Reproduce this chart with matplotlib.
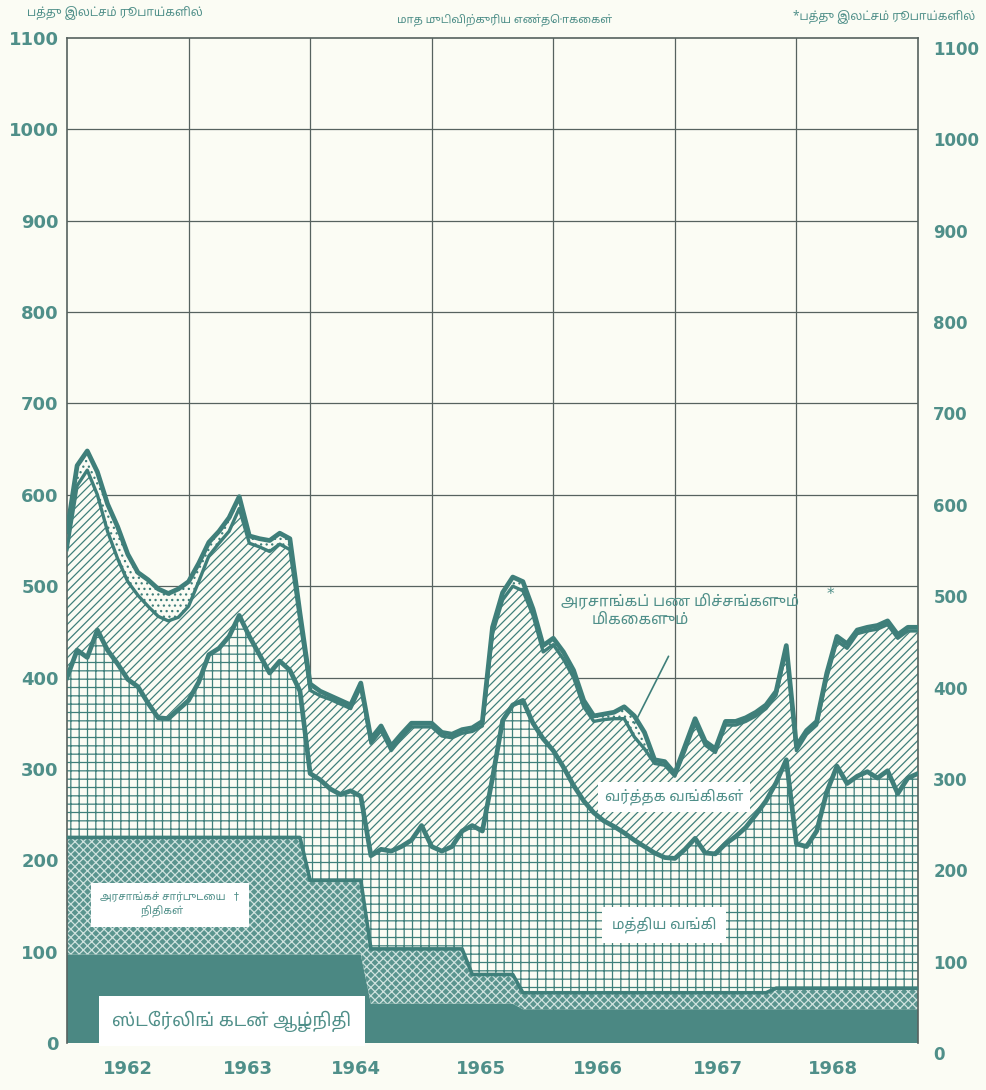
import numpy as np
import matplotlib
matplotlib.use("Agg")
import matplotlib.pyplot as plt
from matplotlib import font_manager as fm
from matplotlib.ft2font import FT2Font

# ---------------- data (month-end figures, Rs. ten millions, cumulative levels) ----
years = ["1962", "1963", "1964", "1965", "1966", "1967", "1968"]
y_ticks = [0, 100, 200, 300, 400, 500, 600, 700, 800, 900, 1000, 1100]

# top of sterling loan sinking fund layer
sterling_level = [97, 97, 97, 97, 97, 97, 97, 97, 97, 97,
                  97, 97, 97, 97, 97, 97, 97, 97, 97, 97,
                  97, 97, 97, 97, 97, 97, 97, 97, 97, 97,
                  43, 43, 43, 43, 43, 43, 43, 43, 43, 43,
                  43, 43, 43, 43, 43, 37, 37, 37, 37, 37,
                  37, 37, 37, 37, 37, 37, 37, 37, 37, 37,
                  37, 37, 37, 37, 37, 37, 37, 37, 37, 37,
                  37, 37, 37, 37, 37, 37, 37, 37, 37, 37,
                  37, 37, 37, 37, 37]
# top of government sponsored funds layer
funds_level = [225, 225, 225, 225, 225, 225, 225, 225, 225, 225,
               225, 225, 225, 225, 225, 225, 225, 225, 225, 225,
               225, 225, 225, 225, 178, 178, 178, 178, 178, 178,
               103, 103, 103, 103, 103, 103, 103, 103, 103, 103,
               75, 75, 75, 75, 75, 55, 55, 55, 55, 55,
               55, 55, 55, 55, 55, 55, 55, 55, 55, 55,
               55, 55, 55, 55, 55, 55, 55, 55, 55, 55,
               60, 60, 60, 60, 60, 60, 60, 60, 60, 60,
               60, 60, 60, 60, 60]
# top of central bank layer
central_level = [400, 430, 422, 452, 430, 415, 398, 390, 372, 356,
                 355, 365, 375, 395, 425, 432, 445, 468, 445, 425,
                 405, 418, 408, 385, 295, 288, 278, 272, 276, 270,
                 205, 212, 210, 215, 222, 238, 215, 210, 215, 232,
                 238, 232, 290, 353, 370, 375, 350, 333, 320, 302,
                 282, 265, 252, 243, 237, 230, 222, 215, 208, 203,
                 202, 212, 224, 208, 207, 218, 226, 236, 250, 265,
                 285, 310, 218, 215, 232, 275, 303, 284, 292, 297,
                 290, 298, 273, 290, 295]
# top of commercial banks layer
commercial_level = [540, 610, 627, 600, 560, 530, 505, 490, 478, 467,
                    462, 466, 478, 505, 533, 547, 560, 585, 547, 543,
                    538, 546, 540, 462, 386, 380, 376, 371, 366, 390,
                    328, 342, 320, 334, 346, 346, 346, 336, 334, 339,
                    341, 347, 448, 485, 500, 495, 468, 428, 436, 420,
                    400, 368, 352, 354, 355, 355, 335, 322, 306, 304,
                    292, 320, 350, 326, 318, 348, 348, 352, 358, 366,
                    381, 431, 320, 338, 348, 400, 440, 432, 448, 451,
                    453, 458, 443, 451, 451]
# total: top of government cash balances and surpluses layer
total_level = [560, 632, 648, 625, 590, 565, 535, 515, 507, 497,
               492, 497, 505, 525, 548, 560, 575, 598, 555, 552,
               550, 558, 552, 470, 393, 385, 380, 375, 370, 394,
               333, 347, 325, 338, 350, 350, 350, 340, 338, 343,
               345, 352, 455, 493, 510, 505, 475, 435, 443, 428,
               408, 375, 358, 360, 362, 368, 358, 340, 310, 308,
               295, 325, 355, 330, 322, 352, 352, 356, 362, 370,
               385, 435, 325, 342, 352, 405, 445, 437, 452, 455,
               457, 462, 447, 455, 455]

# ---------------- fonts ----------------
def tamil_family():
    preferred = ["Noto Sans Tamil", "Noto Serif Tamil", "Noto Sans Tamil UI",
                 "Lohit Tamil", "Latha", "FreeSans", "FreeSerif"]
    names = {f.name for f in fm.fontManager.ttflist}
    for p in preferred:
        if p in names:
            return p
    for f in fm.fontManager.ttflist:
        try:
            if 0x0BA4 in FT2Font(f.fname).get_charmap():
                return f.name
        except Exception:
            continue
    return "DejaVu Sans"

TAMIL = [tamil_family(), "DejaVu Sans"]

# ---------------- style ----------------
BG = "#fbfcf4"
TEAL = "#3f7f7a"
TEXT = "#4f8f89"
DARK = "#4b8883"
GRID = "#56625f"
plt.rcParams["hatch.linewidth"] = 0.9

W, H = 986, 1090
fig = plt.figure(figsize=(W / 100, H / 100), dpi=100, facecolor=BG)

def P(px, py):
    return px / W, 1 - py / H

x0, x1, ytop, ybot = 67, 918, 38, 1043
ax = fig.add_axes([x0 / W, 1 - ybot / H, (x1 - x0) / W, (ybot - ytop) / H])
ax.set_facecolor(BG)

months = np.arange(len(total_level))
ax.set_xlim(0, 84)
ax.set_ylim(0, 1100)

# grid
for v in y_ticks[1:-1]:
    ax.axhline(v, color=GRID, lw=0.9, zorder=0.5)
for k in range(1, len(years)):
    ax.axvline(12 * k, color=GRID, lw=0.9, zorder=0.5)

# layers
ax.fill_between(months, 0, sterling_level, facecolor=DARK, lw=0, zorder=1)
ax.fill_between(months, sterling_level, funds_level, facecolor="#5a948e",
                hatch="xxxx", edgecolor="#cfe2de", lw=0, zorder=1)
ax.fill_between(months, funds_level, central_level, facecolor=BG,
                hatch="++", edgecolor=TEAL, lw=0, zorder=1)
ax.fill_between(months, central_level, commercial_level, facecolor=BG,
                hatch="////", edgecolor=TEAL, lw=0, zorder=1)
ax.fill_between(months, commercial_level, total_level, facecolor=BG,
                hatch="...", edgecolor=TEAL, lw=0, zorder=1)

# boundary lines
ax.plot(months, funds_level, color=TEAL, lw=2.6, zorder=3)
ax.plot(months, central_level, color=TEAL, lw=3.4, zorder=3)
ax.plot(months, commercial_level, color=TEAL, lw=2.4, zorder=3)
ax.plot(months, total_level, color=TEAL, lw=3.4, zorder=3)

# pointer for government cash balances
ax.annotate("", xy=(55.9, 347), xytext=(59.5, 426),
            arrowprops=dict(arrowstyle="-", lw=1.2, color=TEAL), zorder=4)

# axes cosmetics
for s in ["top", "left", "right"]:
    ax.spines[s].set_color(GRID)
    ax.spines[s].set_linewidth(1.2)
ax.spines["bottom"].set_visible(False)
ax.set_yticks(y_ticks)
ax.set_yticklabels([str(v) for v in y_ticks])
ax.tick_params(axis="y", length=0, pad=6, labelsize=13, labelcolor=TEXT)
for lab in ax.get_yticklabels():
    lab.set_fontweight("bold")
year_pos = [6.0, 17.9, 28.5, 40.9, 52.4, 64.3, 75.6]
ax.set_xticks(year_pos)
ax.set_xticklabels(years)
ax.tick_params(axis="x", length=0, pad=12, labelsize=13, labelcolor=TEXT)
for lab in ax.get_xticklabels():
    lab.set_fontweight("bold")

# right-hand scale (scan is slightly skewed: shifted down ~10 px)
ax2 = fig.add_axes([x0 / W, 1 - (ybot + 10) / H, (x1 - x0) / W, (ybot - ytop) / H])
ax2.patch.set_visible(False)
for s in ax2.spines.values():
    s.set_visible(False)
ax2.set_xlim(0, 84)
ax2.set_ylim(0, 1100)
ax2.set_xticks([])
ax2.yaxis.tick_right()
ax2.set_yticks(y_ticks)
ax2.set_yticklabels([str(v) for v in y_ticks])
ax2.tick_params(axis="y", length=0, pad=11, labelsize=12, labelcolor=TEXT)
for lab in ax2.get_yticklabels():
    lab.set_fontweight("bold")

# ---------------- text ----------------
fig.text(*P(115, 13), "பத்து இலட்சம் ரூபாய்களில்", family=TAMIL, fontsize=8.5,
         color=TEXT, ha="center", va="center", weight="bold")
fig.text(*P(505, 20), "மாத முடிவிற்குரிய எண்தொகைகள்", family=TAMIL, fontsize=8,
         color=TEXT, ha="center", va="center")
fig.text(*P(884, 16), "*பத்து இலட்சம் ரூபாய்களில்", family=TAMIL, fontsize=8.5,
         color=TEXT, ha="center", va="center", weight="bold")

fig.text(*P(680, 601), "அரசாங்கப் பண மிச்சங்களும்", family=TAMIL, fontsize=11,
         color=TEXT, ha="center", va="center")
fig.text(*P(640, 620), "மிகைகளும்", family=TAMIL, fontsize=11,
         color=TEXT, ha="center", va="center")
fig.text(*P(830, 594), "*", fontsize=11, color=TEXT, ha="center", va="center")

fig.text(*P(674, 797), "வர்த்தக வங்கிகள்", family=TAMIL, fontsize=10.5,
         color=TEXT, ha="center", va="center",
         bbox=dict(facecolor="white", edgecolor="none", pad=5), zorder=5)
fig.text(*P(664, 925), "மத்திய வங்கி", family=TAMIL, fontsize=10.5,
         color=TEXT, ha="center", va="center",
         bbox=dict(facecolor="white", edgecolor="none", pad=7), zorder=5)
fig.text(*P(170, 905), "அரசாங்கச் சார்புடைய   †\nநிதிகள்      ", family=TAMIL,
         fontsize=7.5, color=TEXT, ha="center", va="center", linespacing=1.25,
         multialignment="center",
         bbox=dict(facecolor="white", edgecolor="none", pad=7), zorder=5)
fig.text(*P(232, 1021), "ஸ்டேர்லிங் கடன் ஆழ்நிதி", family=TAMIL, fontsize=13,
         color=TEXT, ha="center", va="center",
         bbox=dict(facecolor="white", edgecolor="none", pad=10), zorder=5)

fig.savefig("out.png", dpi=100, facecolor=BG)
